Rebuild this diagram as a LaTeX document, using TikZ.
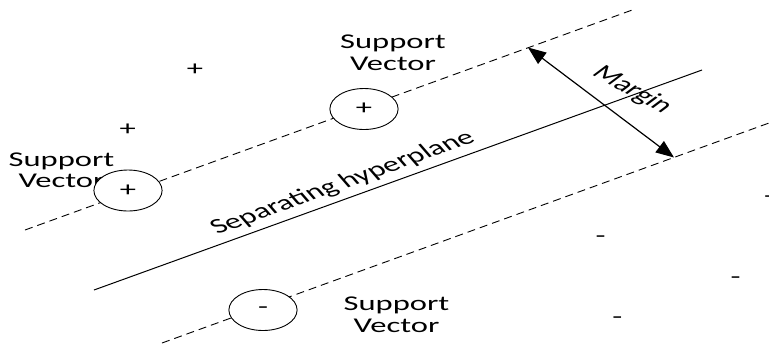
\documentclass[tikz,border=0pt]{standalone}
\usepackage{fontspec}
\setmainfont{Carlito}
\usetikzlibrary{arrows.meta,shapes.geometric}
\begin{document}
\begin{tikzpicture}[x=1pt,y=-1pt,
  txt/.style={font=\fontsize{21}{21.5}\selectfont, inner sep=0pt},
  lbl/.style={txt, align=center, xscale=1.55},
  sign/.style={txt, xscale=1.55},
  sv/.style={ellipse, draw, fill=white, line width=0.9pt, minimum width=44pt,
    minimum height=41pt, inner sep=0pt, xscale=1.55, txt},
  bound/.style={line width=0.9pt, dash pattern=on 8pt off 5pt},
  plane/.style={line width=1pt},
  gap/.style={line width=1.2pt, {Triangle[length=18pt,width=14pt]}-{Triangle[length=18pt,width=14pt]}}]
\useasboundingbox (0,0) rectangle (769,360);

% end points of the two margin boundaries and the hyperplane
\coordinate (ua) at (25,230);
\coordinate (ub) at (635,9);
\coordinate (ha) at (94,290);
\coordinate (hb) at (702,70);
\coordinate (la) at (162,343);
\coordinate (lb) at (769,123);
\coordinate (mt) at (528,47.5);
\coordinate (mb) at (674,157.5);

\draw[bound] (ua) -- (ub);
\draw[plane] (ha) -- (hb);
\draw[bound] (la) -- (lb);
\draw[gap] (mt) -- (mb);

% label partly hidden by the support vector drawn over it
\node[lbl] (svl) at (61.5,170.3) {Support\\Vector};

% support vectors on the boundaries
\node[sv] (pa) at (128,190.5) {+};
\node[sv] (pb) at (364,109) {+};
\node[sv] (nc) at (263,310) {-};

\node[lbl] (svt) at (393,53) {Support\\Vector};
\node[lbl] (svb) at (396.5,314.8) {Support\\Vector};

% other samples
\node[sign] (p1) at (195,70) {+};
\node[sign] (p2) at (127.7,130) {+};
\node[sign] (n1) at (600.7,239.3) {-};
\node[sign] (n2) at (735.7,279.7) {-};
\node[sign] (n3) at (617.3,320) {-};
\node[sign] (n4) at (769,199) {-};

% slanted captions
\node[txt, anchor=base, cm={1.352,0.489,-0.758,0.872,(0,0)}] (sep) at (347,188) {Separating hyperplane};
\node[txt, cm={1.175,-0.652,1.011,0.758,(0,0)}] (mar) at (632,90) {Margin};
\end{tikzpicture}
\end{document}
